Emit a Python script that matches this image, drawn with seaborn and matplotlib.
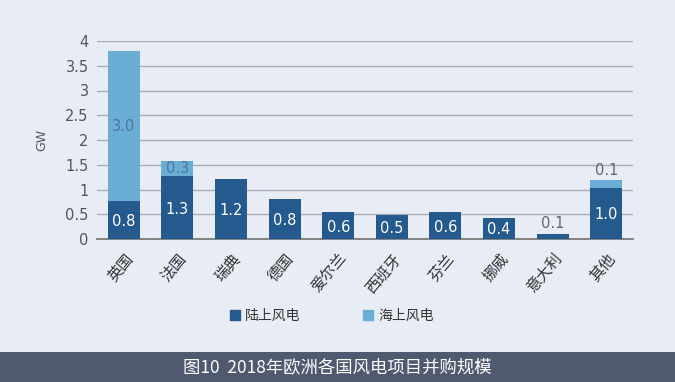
import numpy as np
import pandas as pd
import matplotlib
matplotlib.use("Agg")
import matplotlib.pyplot as plt
import seaborn as sns
from matplotlib.patches import Patch

countries = ["英国", "法国", "瑞典", "德国", "爱尔兰", "西班牙", "芬兰", "挪威", "意大利", "其他"]
onshore = [0.77, 1.27, 1.22, 0.80, 0.54, 0.49, 0.54, 0.43, 0.11, 1.03]
offshore = [3.02, 0.30, 0, 0, 0, 0, 0, 0, 0, 0.16]
onshore_lbl = ["0.8", "1.3", "1.2", "0.8", "0.6", "0.5", "0.6", "0.4", "0.1", "1.0"]
offshore_lbl = ["3.0", "0.3", "", "", "", "", "", "", "", "0.1"]

bg = "#e8edf5"
c_on = "#245a8e"
c_off = "#6aaed6"

df = pd.DataFrame({"country": countries, "onshore": onshore, "offshore": offshore})
df["total"] = df["onshore"] + df["offshore"]

sns.set_theme(style="white")
plt.rcParams["font.family"] = ["DejaVu Sans", "Noto Sans CJK SC"]

fig = plt.figure(figsize=(6.75, 3.82), dpi=100, facecolor=bg)
ax = fig.add_axes([97 / 675, 1 - 239 / 382, 536 / 675, 198 / 382])
ax.set_facecolor(bg)

sns.barplot(data=df, x="country", y="total", color=c_off, width=0.6, saturation=1,
            linewidth=0, edgecolor="none", ax=ax, zorder=3)
sns.barplot(data=df, x="country", y="onshore", color=c_on, width=0.6, saturation=1,
            linewidth=0, edgecolor="none", ax=ax, zorder=3)

ax.set_ylim(0, 4)
ax.set_xlim(-0.5, len(countries) - 0.5)
ax.set_yticks(np.arange(0, 4.01, 0.5))
ax.set_yticklabels(["0", "0.5", "1", "1.5", "2", "2.5", "3", "3.5", "4"], color="#555555", fontsize=10.5)
ax.yaxis.grid(True, color="#a9adb3", lw=1, zorder=0)
ax.tick_params(axis="y", length=0, pad=6)
ax.set_ylabel("GW", color="#555555", fontsize=9, labelpad=12)
ax.set_xlabel("")

ax.set_xticks(range(len(countries)))
ax.set_xticklabels(countries, rotation=50, ha="right", rotation_mode="anchor",
                   family=["Noto Sans CJK SC"], fontsize=11, color="#333333")
ax.set_xticks(np.arange(-0.5, len(countries), 1), minor=True)
ax.tick_params(axis="x", which="major", length=0, pad=8)
ax.tick_params(axis="x", which="minor", length=4, color="#777777", width=1)

for s in ["top", "right", "left"]:
    ax.spines[s].set_visible(False)
ax.spines["bottom"].set_color("#777777")

for i in range(len(countries)):
    if onshore[i] > 0.3:
        ax.text(i, onshore[i] / 2 - 0.03, onshore_lbl[i], ha="center", va="center",
                color="white", fontsize=10.5, zorder=5)
    else:
        ax.text(i, onshore[i] + 0.05, onshore_lbl[i], ha="center", va="bottom",
                color="#666666", fontsize=10.5, zorder=5)
    if offshore_lbl[i]:
        if offshore[i] > 0.25:
            ax.text(i, onshore[i] + offshore[i] / 2, offshore_lbl[i], ha="center", va="center",
                    color="#4f7598", fontsize=10.5, zorder=5)
        else:
            ax.text(i, onshore[i] + offshore[i] + 0.05, offshore_lbl[i], ha="center", va="bottom",
                    color="#666666", fontsize=10.5, zorder=5)

# legend
handles = [Patch(color=c_on, label="陆上风电"), Patch(color=c_off, label="海上风电")]
leg = fig.legend(handles=handles, loc="center", bbox_to_anchor=(332 / 675, 1 - 316 / 382), ncol=2,
                 frameon=False, handlelength=0.7, handleheight=0.7, handletextpad=0.4,
                 columnspacing=4.5, prop={"family": "Noto Sans CJK SC", "size": 10})
for t in leg.get_texts():
    t.set_color("#333333")

# caption banner
fig.patches.append(plt.Rectangle((0, 0), 1, 30 / 382, transform=fig.transFigure,
                                 facecolor="#4f5a70", edgecolor="none"))
fig.text(0.5, 15 / 382, "图10  2018年欧洲各国风电项目并购规模", ha="center", va="center",
         color="white", fontsize=12.5, family=["Noto Sans CJK SC"])

fig.savefig("out.png", dpi=100, facecolor=bg)
